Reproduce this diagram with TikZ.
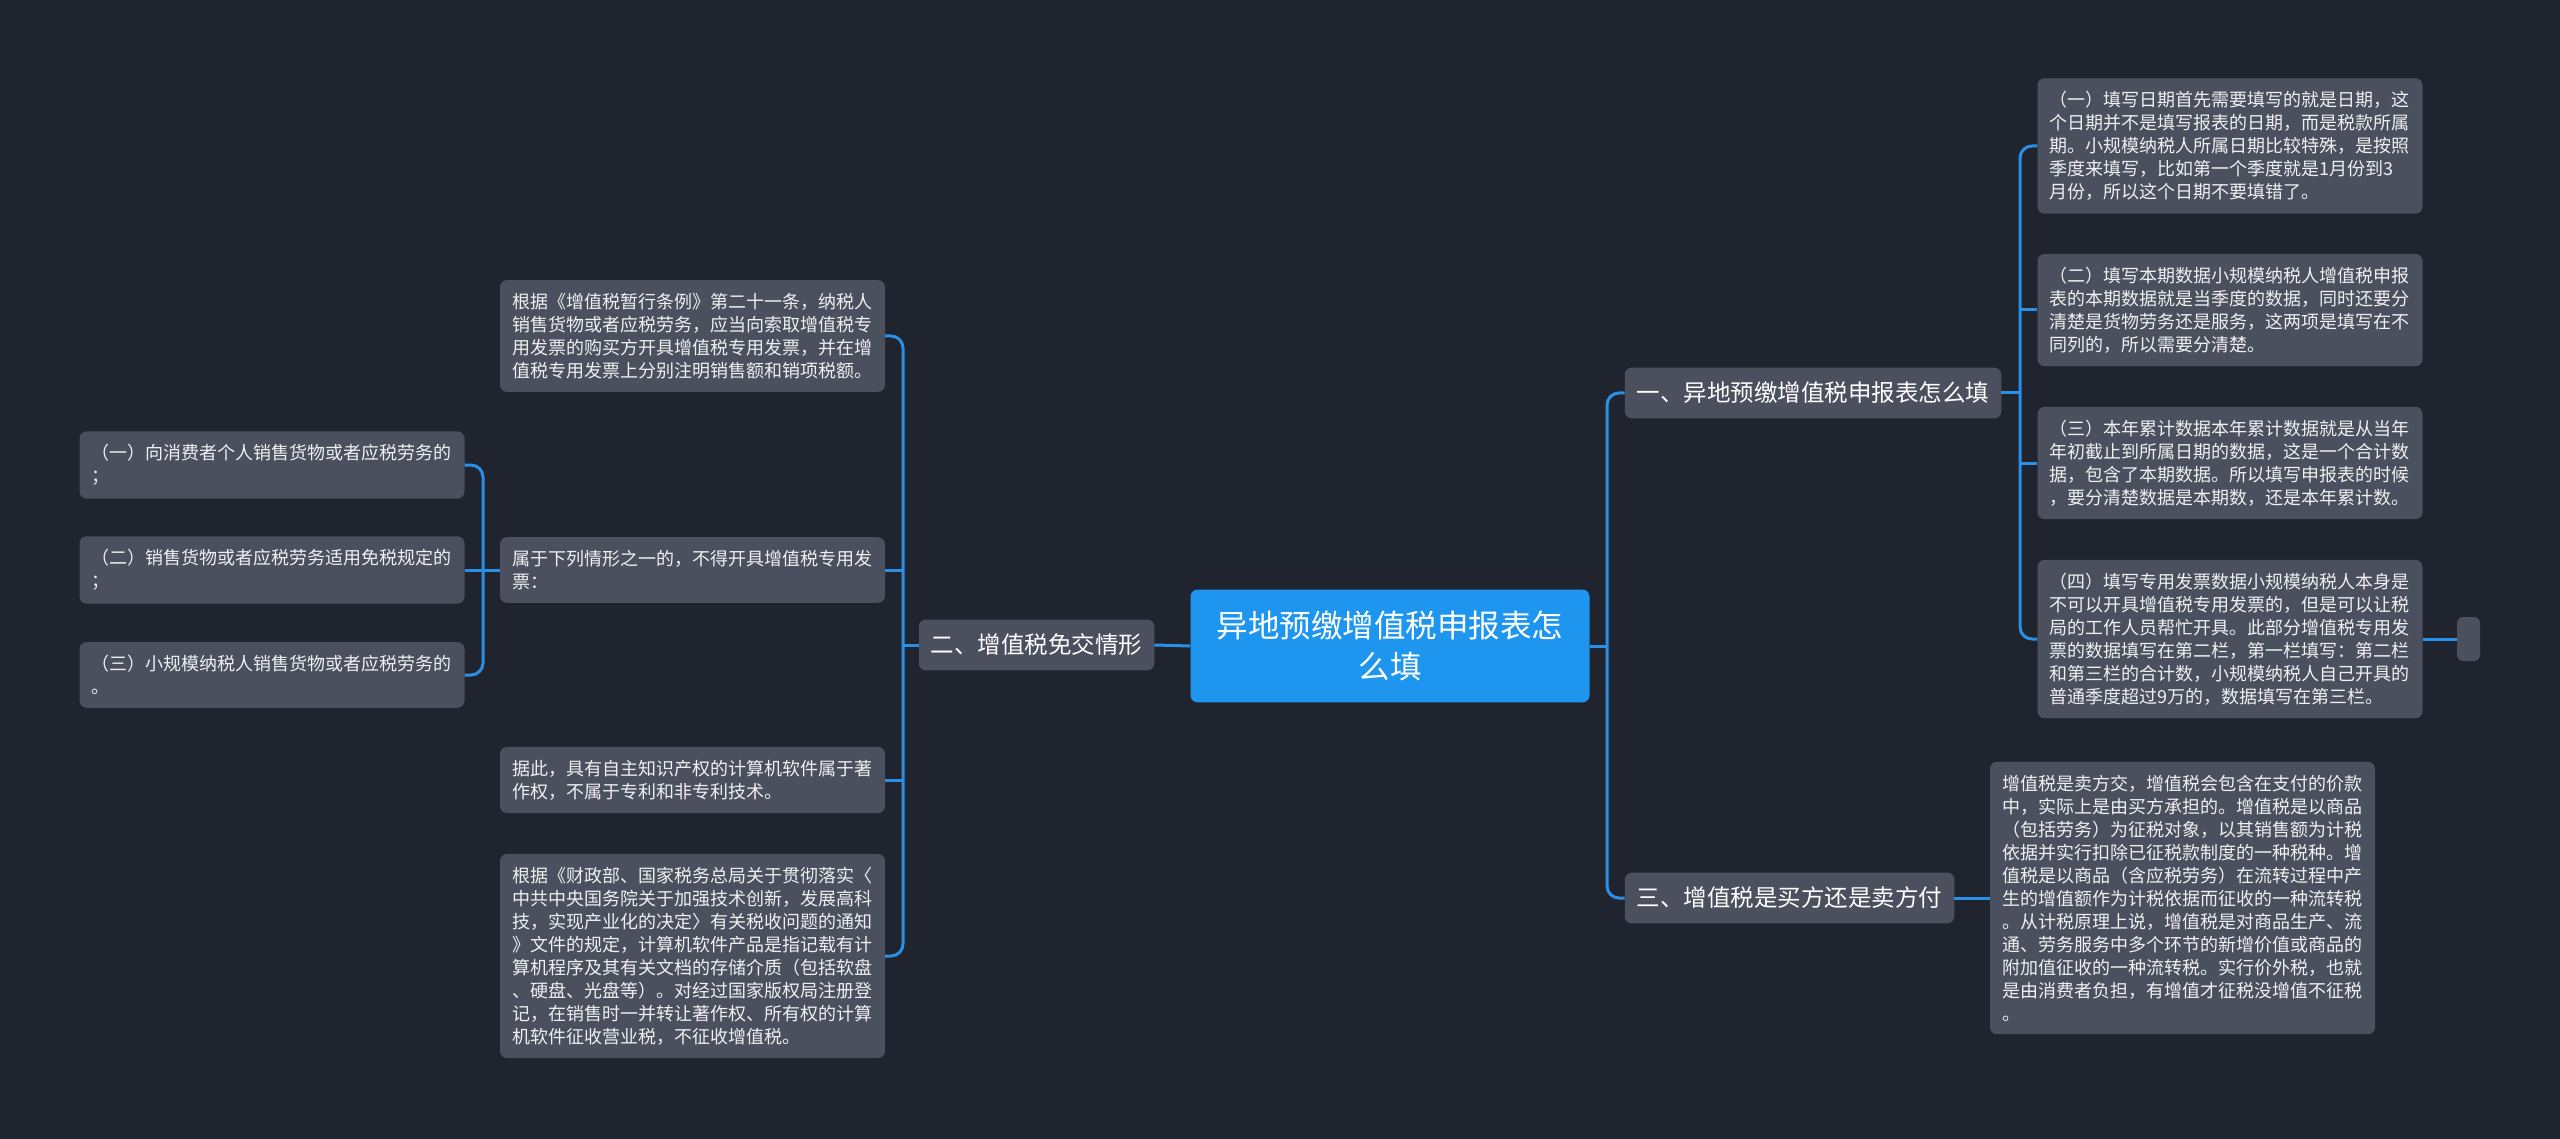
\documentclass[tikz,border=0pt]{standalone}
\usepackage{fontspec}
\newfontfamily\cjk{Noto Sans CJK SC}
\usetikzlibrary{positioning}
\definecolor{bgdark}{HTML}{20242F}
\definecolor{boxgray}{HTML}{4A505E}
\definecolor{rootblue}{HTML}{1E96F0}
\definecolor{linkblue}{HTML}{2A8FE6}

\begin{document}
\begin{tikzpicture}[x=1pt,y=-1pt]

\tikzset{root/.style = {fill=rootblue, text=white, rounded corners=7pt, align=center, inner xsep=0pt, inner ysep=21pt, minimum width=399pt, font=\cjk\fontsize{31.5}{41.7}\selectfont}}
\tikzset{topic/.style = {fill=boxgray, text=white, rounded corners=7pt, inner xsep=12pt, inner ysep=14.5pt, font=\cjk\fontsize{23.5}{28}\selectfont}}
\tikzset{leaf/.style = {fill=boxgray, text=white!94!black, rounded corners=7pt, align=left, text width=361pt, inner xsep=12pt, inner ysep=13pt, font=\cjk\fontsize{18}{23}\selectfont}}
\tikzset{branch/.style = {draw=linkblue, line width=3pt, rounded corners=12pt}}

\useasboundingbox (0,0) rectangle (2560,1139);
\fill[bgdark] (0,0) rectangle (2560,1139);

% centre and main topics
\node[root] (root) at (1390,646) {异地预缴增值税申报表怎\\么填};
\node[topic] (mian) at (1036.5,645) {二、增值税免交情形};
\node[topic] (yi) at (1813,393) {一、异地预缴增值税申报表怎么填};
\node[topic] (san) at (1789.5,898) {三、增值税是买方还是卖方付};

% left side
\node[leaf] (b1) at (692.5,336) {根据《增值税暂行条例》第二十一条，纳税人\\销售货物或者应税劳务，应当向索取增值税专\\用发票的购买方开具增值税专用发票，并在增\\值税专用发票上分别注明销售额和销项税额。};
\node[leaf] (b2) at (692.5,570) {属于下列情形之一的，不得开具增值税专用发\\票：};
\node[leaf] (b3) at (692.5,780) {据此，具有自主知识产权的计算机软件属于著\\作权，不属于专利和非专利技术。};
\node[leaf] (b4) at (692.5,956) {根据《财政部、国家税务总局关于贯彻落实〈\\中共中央国务院关于加强技术创新，发展高科\\技，实现产业化的决定〉有关税收问题的通知\\》文件的规定，计算机软件产品是指记载有计\\算机程序及其有关文档的存储介质（包括软盘\\、硬盘、光盘等）。对经过国家版权局注册登\\记，在销售时一并转让著作权、所有权的计算\\机软件征收营业税，不征收增值税。};
\node[leaf] (a1) at (272,465) {（一）向消费者个人销售货物或者应税劳务的\\；};
\node[leaf] (a2) at (272,570) {（二）销售货物或者应税劳务适用免税规定的\\；};
\node[leaf] (a3) at (272,675) {（三）小规模纳税人销售货物或者应税劳务的\\。};

% right side
\node[leaf] (c1) at (2230,146) {（一）填写日期首先需要填写的就是日期，这\\个日期并不是填写报表的日期，而是税款所属\\期。小规模纳税人所属日期比较特殊，是按照\\季度来填写，比如第一个季度就是1月份到3\\月份，所以这个日期不要填错了。};
\node[leaf] (c2) at (2230,310) {（二）填写本期数据小规模纳税人增值税申报\\表的本期数据就是当季度的数据，同时还要分\\清楚是货物劳务还是服务，这两项是填写在不\\同列的，所以需要分清楚。};
\node[leaf] (c3) at (2230,463) {（三）本年累计数据本年累计数据就是从当年\\年初截止到所属日期的数据，这是一个合计数\\据，包含了本期数据。所以填写申报表的时候\\，要分清楚数据是本期数，还是本年累计数。};
\node[leaf] (c4) at (2230,639) {（四）填写专用发票数据小规模纳税人本身是\\不可以开具增值税专用发票的，但是可以让税\\局的工作人员帮忙开具。此部分增值税专用发\\票的数据填写在第二栏，第一栏填写：第二栏\\和第三栏的合计数，小规模纳税人自己开具的\\普通季度超过9万的，数据填写在第三栏。};
\node[fill=boxgray, rounded corners=6pt, minimum width=23pt, minimum height=44pt, inner sep=0pt] (e) at (2468.5,639) {};
\node[leaf] (d1) at (2182.5,898) {增值税是卖方交，增值税会包含在支付的价款\\中，实际上是由买方承担的。增值税是以商品\\（包括劳务）为征税对象，以其销售额为计税\\依据并实行扣除已征税款制度的一种税种。增\\值税是以商品（含应税劳务）在流转过程中产\\生的增值额作为计税依据而征收的一种流转税\\。从计税原理上说，增值税是对商品生产、流\\通、劳务服务中多个环节的新增价值或商品的\\附加值征收的一种流转税。实行价外税，也就\\是由消费者负担，有增值才征税没增值不征税\\。};

% connectors
\coordinate (lt) at (903,645);
\coordinate (aj) at (483,570);
\coordinate (rt) at (1607,646);
\coordinate (ct) at (2020,393);
\draw[branch] (root.west) -- (mian.east);
\draw[branch] (mian.west) -- (lt);
\draw[branch] (b1.east) -| (lt) |- (b4.east);
\draw[branch] (b2.east) -- (b2.east -| lt);
\draw[branch] (b3.east) -- (b3.east -| lt);
\draw[branch] (b2.west) -- (aj);
\draw[branch] (a1.east) -| (aj) |- (a3.east);
\draw[branch] (a2.east) -- (a2.east -| aj);
\draw[branch] (root.east) -- (rt);
\draw[branch] (yi.west) -| (rt) |- (san.west);
\draw[branch] (yi.east) -- (ct);
\draw[branch] (c1.west) -| (ct) |- (c4.west);
\draw[branch] (c2.west) -- (c2.west -| ct);
\draw[branch] (c3.west) -- (c3.west -| ct);
\draw[branch] (c4.east) -- (e.west);
\draw[branch] (san.east) -- (d1.west);
\end{tikzpicture}
\end{document}
